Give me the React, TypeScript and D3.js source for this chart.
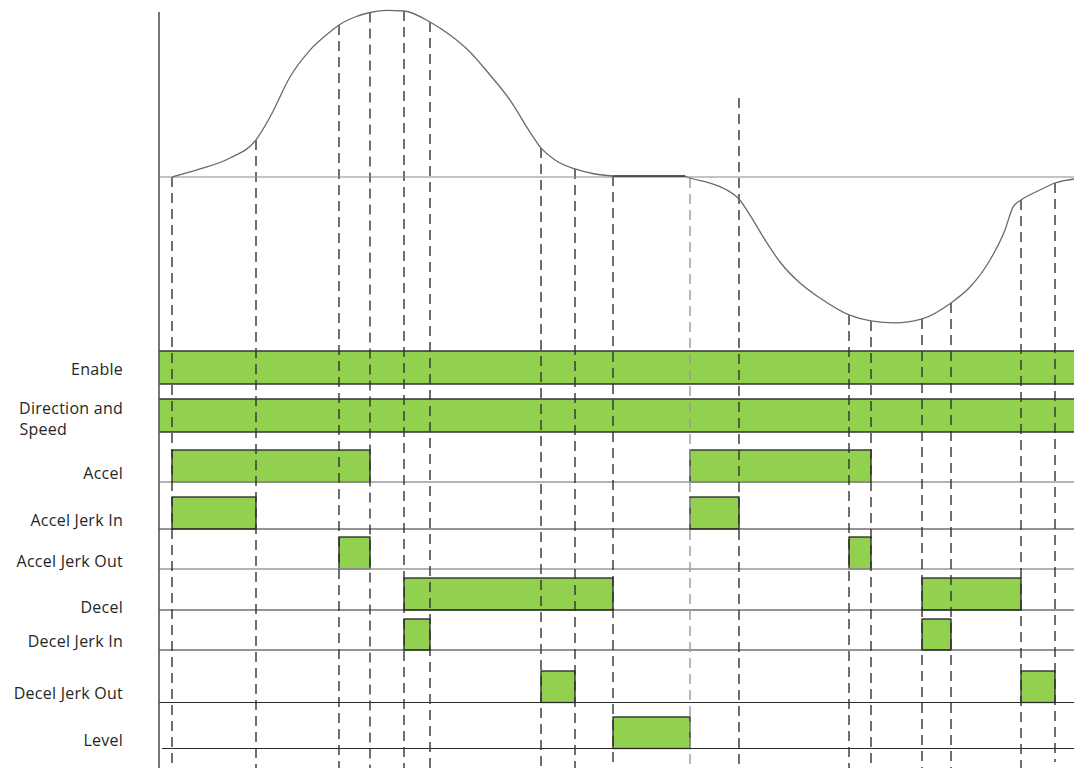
import React from "react";
import * as d3 from "d3";

// ---------- data ----------
// velocity profile: time (arbitrary units) and velocity (% of max)
const curveT = [1.3, 4.1, 7.1, 9.7, 11.1, 13.1, 15.1, 17.1, 18.0, 19.6, 21.1, 22.8, 24.5, 27.1, 29.1, 31.1, 33.1, 35.1, 37.1, 38.2, 39.6, 41.6, 43.6, 45.4];
const curveV = [0, 4.8, 11.4, 22.2, 35.9, 59.9, 76.0, 86.8, 91.0, 95.8, 98.5, 99.8, 99.4, 92.8, 85.0, 74.9, 61.1, 46.1, 26.9, 17.4, 10.2, 4.8, 1.8, 0.6];
const levelT = [45.4, 52.6];
const levelV = [0.6, 0.6];
const curve2T = [52.6, 53.1, 55.1, 56.6, 58.0, 59.1, 60.6, 62.1, 64.1, 66.1, 69.0, 71.2, 73.6, 76.3, 79.2, 81.1, 83.1, 84.6, 85.4, 86.2, 88.1, 89.6, 91.5];
const curve2V = [0.6, -0.6, -3.6, -7.2, -13.2, -22.8, -37.7, -50.9, -63.5, -72.5, -82.6, -86.2, -87.4, -85.0, -75.4, -65.9, -49.7, -31.7, -18.0, -13.8, -7.8, -3.6, -1.2];

// event markers (dashed lines): time and velocity where the dashed line starts
const eventT = [1.3, 9.7, 18.0, 21.1, 24.5, 27.1, 38.2, 41.6, 45.4, 53.1, 58.0, 69.0, 71.2, 76.3, 79.2, 86.2, 89.6];
const eventTop = [0, 22.2, 91.0, 98.5, 99.4, 92.8, 17.4, 4.8, 0.6, -0.6, 47.3, -82.6, -86.2, -85.0, -75.4, -13.8, -3.6];
const eventLight = [false, false, false, false, false, false, false, false, false, true, false, false, false, false, false, false, false];

// signal rows
const rowLabels = [["Enable"], ["Direction and", "Speed"], ["Accel"], ["Accel Jerk In"], ["Accel Jerk Out"], ["Decel"], ["Decel Jerk In"], ["Decel Jerk Out"], ["Level"]];
const rowIntervals: number[][][] = [
  [[0, 91.5]],
  [[0, 91.5]],
  [[1.3, 21.1], [53.1, 71.2]],
  [[1.3, 9.7], [53.1, 58.0]],
  [[18.0, 21.1], [69.0, 71.2]],
  [[24.5, 45.4], [76.3, 86.2]],
  [[24.5, 27.1], [76.3, 79.2]],
  [[38.2, 41.6], [86.2, 89.6]],
  [[45.4, 53.1]],
];

// ---------- layout ----------
const W = 1074, H = 768;
const AXIS_X = 159, RIGHT = 1074;
const rowTop = [351, 399, 450, 497, 537, 578, 619, 671, 717];
const rowBottom = [384, 432, 482, 529, 569, 610, 650, 702.5, 748.5];
const rowBaseline = [null, null, "light", "dark", "light", "dark", "dark", "dark", "dark"];
const labelBaselines = [[375], [414, 435], [479], [526], [567], [613], [647], [699], [746]];

export default function App() {
  const x = d3.scaleLinear().domain([0, 91.5]).range([AXIS_X, RIGHT]);
  const y = d3.scaleLinear().domain([-100, 100]).range([344, 10]);
  const line = d3
    .line<[number, number]>()
    .x((d) => x(d[0]))
    .y((d) => y(d[1]))
    .curve(d3.curveMonotoneX);
  const p1 = line(curveT.map((t, i) => [t, curveV[i]]) as [number, number][]) || "";
  const p2 = line(curve2T.map((t, i) => [t, curve2V[i]]) as [number, number][]) || "";
  const pl = d3.line<[number, number]>().x((d) => x(d[0])).y((d) => y(d[1]))(levelT.map((t, i) => [t, levelV[i]]) as [number, number][]) || "";

  const font = "'Open Sans', 'Liberation Sans', sans-serif";

  return (
    <svg width={W} height={H} style={{ position: "absolute", left: 0, top: 0, background: "#fff" }}>
      {/* bars */}
      {rowIntervals.map((ints, r) =>
        ints.map(([a, b], k) => {
          const full = a === 0 && b === 91.5;
          const x0 = x(a), x1 = x(b);
          const t = rowTop[r], bt = rowBottom[r];
          return (
            <g key={`b${r}-${k}`}>
              <rect x={x0} y={t} width={x1 - x0} height={bt - t} fill="#92D050" stroke="none" />
              {full ? (
                <>
                  <line x1={x0} x2={x1} y1={t} y2={t} stroke="#333" strokeWidth={1.3} />
                  <line x1={x0} x2={x1} y1={bt} y2={bt} stroke="#333" strokeWidth={1.3} />
                </>
              ) : (
                <rect x={x0} y={t} width={x1 - x0} height={bt - t} fill="none" stroke="#222" strokeWidth={1.3} />
              )}
            </g>
          );
        })
      )}
      {/* baselines */}
      {rowBaseline.map((b, r) =>
        b ? (
          <line
            key={`bl${r}`}
            x1={r === 8 ? AXIS_X + 3 : AXIS_X}
            x2={RIGHT}
            y1={rowBottom[r]}
            y2={rowBottom[r]}
            stroke={b === "light" ? "#9a9a9a" : "#2a2a2a"}
            strokeWidth={b === "light" ? 1.6 : 1.2}
          />
        ) : null
      )}
      {/* dashed event lines */}
      {eventT.map((t, i) => (
        <line
          key={`e${i}`}
          x1={x(t)}
          x2={x(t)}
          y1={y(eventTop[i])}
          y2={i === eventT.length - 1 ? 762 : H}
          stroke={eventLight[i] ? "#9a9a9a" : "#333"}
          strokeWidth={1.4}
          strokeDasharray="10,6"
        />
      ))}
      {/* zero line */}
      <line x1={AXIS_X} x2={RIGHT} y1={y(0)} y2={y(0)} stroke="#8a8a8a" strokeWidth={1.1} />
      {/* velocity curve */}
      <path d={p1} fill="none" stroke="#6a6a6a" strokeWidth={1.3} />
      <path d={p2} fill="none" stroke="#6a6a6a" strokeWidth={1.3} />
      <path d={pl} fill="none" stroke="#222" strokeWidth={1.4} />
      {/* vertical axis */}
      <line x1={AXIS_X} x2={AXIS_X} y1={12} y2={H} stroke="#555" strokeWidth={1.6} />
      {/* labels */}
      {rowLabels.map((lines, r) =>
        lines.map((s, k) => (
          <text
            key={`l${r}-${k}`}
            x={k === 1 ? 19.5 : 123}
            y={labelBaselines[r][k]}
            textAnchor={k === 1 ? "start" : "end"}
            fontFamily={font}
            fontSize={16}
            letterSpacing={0.25}
            fill="#262626"
          >
            {s}
          </text>
        ))
      )}
    </svg>
  );
}
